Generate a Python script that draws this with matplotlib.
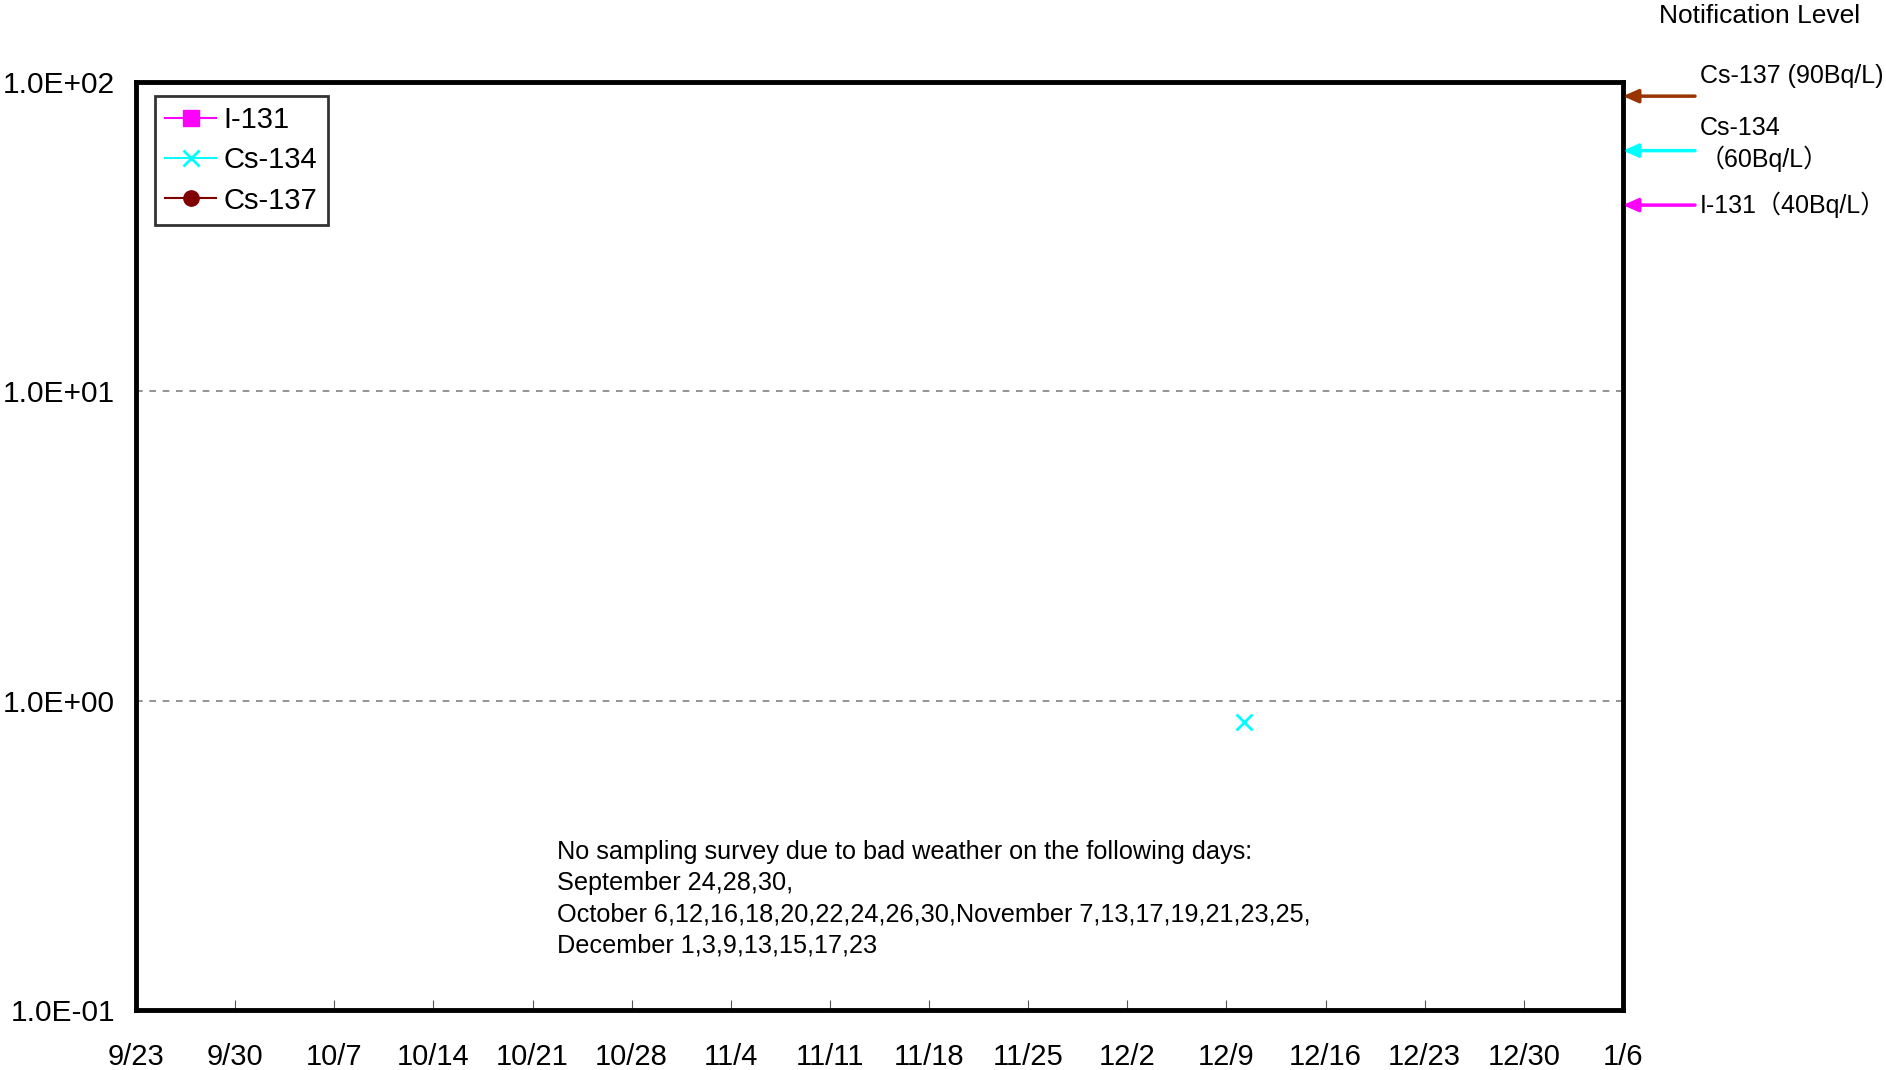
import numpy as np
import matplotlib
matplotlib.use("Agg")
import matplotlib.pyplot as plt
from matplotlib.ticker import FuncFormatter, NullLocator
from datetime import datetime, timedelta

# === DATA ===
i131_dates = []
i131_vals = []
cs134_dates = [datetime(2013, 12, 10, 6)]
cs134_vals = [0.85]
cs137_dates = []
cs137_vals = []

notif_names = ["Cs-137 (90Bq/L)", "Cs-134\n（60Bq/L）", "I-131（40Bq/L）"]
notif_levels = [90, 60, 40]
notif_colors = ["#993300", "#00FFFF", "#FF00FF"]

x_start = datetime(2013, 9, 23)
x_end = datetime(2014, 1, 6)
tick_dates = [x_start + timedelta(days=7 * k) for k in range(16)]
tick_labels = [f"{d.month}/{d.day}" for d in tick_dates]

note_lines = [
    "No sampling survey due to bad weather on the following days:",
    "September 24,28,30,",
    "October 6,12,16,18,20,22,24,26,30,November 7,13,17,19,21,23,25,",
    "December 1,3,9,13,15,17,23",
]

# === PLOT ===
plt.rcParams["font.family"] = ["Liberation Sans", "Noto Sans CJK JP"]
W, H = 1886, 1070
fig = plt.figure(figsize=(W / 100, H / 100), dpi=100)
ax = fig.add_axes([136 / W, 1 - 1010 / H, (1623 - 136) / W, (1010 - 82) / H])

ax.plot(i131_dates, i131_vals, color="#FF00FF", marker="s", markersize=11,
        linewidth=1.5, label="I-131")
ax.plot(cs134_dates, cs134_vals, color="#00FFFF", marker="x", markersize=11,
        markeredgewidth=2, linewidth=1.5, label="Cs-134")
ax.plot(cs137_dates, cs137_vals, color="#800000", marker="o", markersize=11,
        linewidth=1.5, label="Cs-137")

ax.set_yscale("log")
ax.set_ylim(0.1, 100)
ax.set_xlim(x_start, x_end)
ax.set_xticks(tick_dates)
ax.set_xticklabels(tick_labels)
ax.yaxis.set_major_formatter(FuncFormatter(lambda v, p: f"{v:.1E}"))
ax.yaxis.set_minor_locator(NullLocator())

ax.tick_params(axis="x", direction="in", length=7, width=0.8, color="#555555",
               labelsize=21, pad=24)
ax.tick_params(axis="y", length=0, labelsize=21.5, pad=15)
ax.grid(True, axis="y", linestyle=(0, (4, 4)), color="#808080", linewidth=1.2)
for s in ax.spines.values():
    s.set_linewidth(3.5)
    s.set_color("black")

leg = ax.legend(loc="upper left", bbox_to_anchor=(19 / 1487, 1 - 14 / 928),
                fontsize=21, frameon=True, fancybox=False, handlelength=1.75,
                borderaxespad=0, labelspacing=0.42, handletextpad=0.25,
                borderpad=0.35)
leg.get_frame().set_edgecolor("black")
leg.get_frame().set_linewidth(2)

# notification levels
fig.text(1760 / W, 1 - 16 / H, "Notification Level", fontsize=19,
         ha="center", va="center")
arrow_x0 = 1 + (1695 - 1623) / 1487
label_y = [76, 144, 205]
for name, lvl, col, ly in zip(notif_names, notif_levels, notif_colors, label_y):
    ax.annotate("", xy=(1.0, lvl), xycoords=("axes fraction", "data"),
                xytext=(arrow_x0, lvl), textcoords=("axes fraction", "data"),
                arrowprops=dict(arrowstyle="-|>,head_length=0.9,head_width=0.4",
                                color=col, lw=2.5, shrinkA=0, shrinkB=0),
                annotation_clip=False)
    fig.text(1700 / W, 1 - ly / H, name, fontsize=18, ha="left", va="center",
             linespacing=1.25)

fig.text(557 / W, 1 - 840 / H, "\n".join(note_lines), fontsize=18.2,
         ha="left", va="top", linespacing=1.37)

plt.savefig("out.png", dpi=100)
